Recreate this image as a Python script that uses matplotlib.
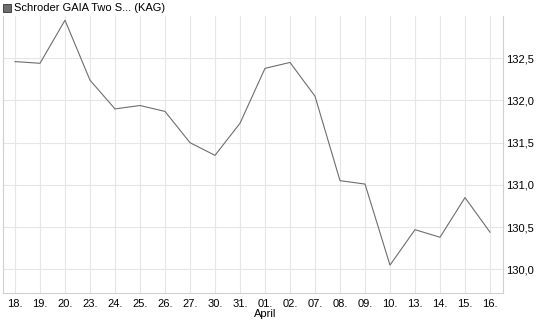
import matplotlib
matplotlib.use("Agg")
import matplotlib.pyplot as plt

plt.rcParams["font.family"] = ["Liberation Sans", "DejaVu Sans"]

# date labels along the x axis
date_labels = ["18.", "19.", "20.", "23.", "24.", "25.", "26.", "27.", "30.", "31.",
               "01.", "02.", "07.", "08.", "09.", "10.", "13.", "14.", "15.", "16."]
# fund price
prices = [132.46, 132.44, 132.95, 132.24, 131.90, 131.94, 131.87, 131.50, 131.35, 131.73,
          132.38, 132.45, 132.05, 131.05, 131.01, 130.05, 130.47, 130.38, 130.85, 130.44]
y_ticks = [130.0, 130.5, 131.0, 131.5, 132.0, 132.5]
series_name = "Schroder GAIA Two S... (KAG)"

fig = plt.figure(figsize=(5.45, 3.27), dpi=100)
ax = fig.add_axes([2.5 / 545, 1 - 293 / 327, 500 / 545, 277 / 327])

x = list(range(len(prices)))
ax.plot(x, prices, color="#6e6e6e", linewidth=0.8)

ax.set_xlim(-0.5, 19.5)
ax.set_ylim(129.72, 133.0)
ax.set_xticks(x)
ax.set_xticklabels(date_labels, fontsize=8)
ax.set_yticks(y_ticks)
ax.set_yticklabels([f"{v:.1f}".replace(".", ",") for v in y_ticks], fontsize=8)
ax.yaxis.tick_right()
ax.tick_params(length=0, colors="#000000")
ax.tick_params(axis="x", pad=4)
ax.tick_params(axis="y", pad=2.5)
ax.grid(True, color="#e6e6e6", linewidth=0.8)
ax.set_axisbelow(True)

for side in ["left", "bottom", "right"]:
    ax.spines[side].set_color("#d0d0d0")
    ax.spines[side].set_linewidth(0.8)
ax.spines["top"].set_visible(False)

fig.text(265 / 545, 1 - 314 / 327, "April", ha="center", va="center", fontsize=8)

# legend
fig.patches.append(plt.Rectangle((3 / 545, 1 - 12 / 327), 8 / 545, 8 / 327,
                                 transform=fig.transFigure, facecolor="#6e6e6e",
                                 edgecolor="#333333", linewidth=0.6))
fig.text(14 / 545, 1 - 8 / 327, series_name, ha="left", va="center", fontsize=8)

fig.savefig("out.png", dpi=100)
